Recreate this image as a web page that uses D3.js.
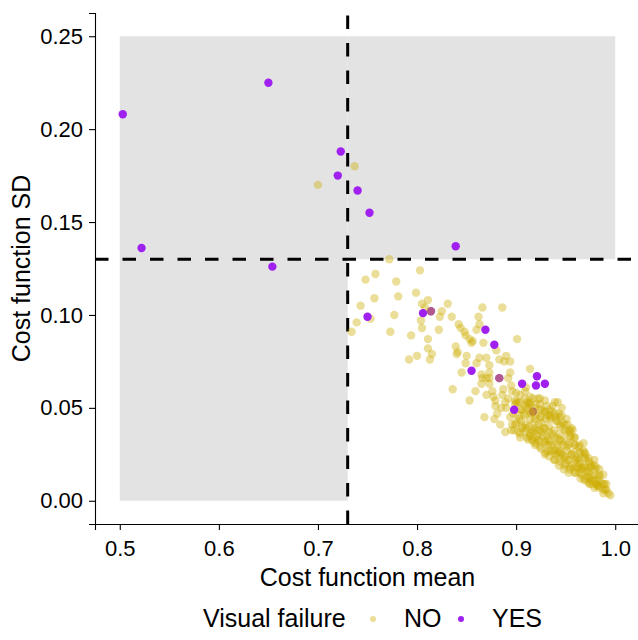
<!DOCTYPE html>
<html>
<head>
<meta charset="utf-8">
<script src="https://cdn.jsdelivr.net/npm/d3@7"></script>
<style>
  body { margin: 0; background: #fff; }
  svg { display: block; }
</style>
</head>
<body>
<div id="chart"></div>
<script>
const width = 638;
const height = 640;
const fontFamily = "Liberation Sans, Arial, sans-serif";

// Axis ticks
const xTicks = [0.5, 0.6, 0.7, 0.8, 0.9, 1.0];
const yTicks = [0, 0.05, 0.10, 0.15, 0.20, 0.25];

// Thresholds (dashed lines) and shaded area
const meanCut = 0.73;
const sdCut = 0.13;
const shadeMean = [0.5, 1.0];
const shadeSD = [0, 0.25];

const legendLabels = ["NO", "YES"];

// Visual failure = NO  [mean, sd]
const noPoints = [
  [0.700,0.170],[0.737,0.180],
  [0.772,0.130],[0.803,0.124],[0.748,0.119],[0.758,0.122],[0.779,0.118],[0.799,0.112],[0.781,0.110],[0.757,0.109],
  [0.743,0.105],[0.805,0.106],[0.811,0.108],[0.808,0.104],[0.753,0.098],[0.777,0.100],[0.739,0.096],[0.734,0.091],
  [0.804,0.097],[0.805,0.093],[0.773,0.091],[0.794,0.089],[0.811,0.087],[0.822,0.092],[0.811,0.082],[0.815,0.079],
  [0.800,0.078],[0.792,0.076],[0.813,0.076],[0.831,0.106],[0.825,0.102],[0.823,0.099],[0.835,0.099],[0.842,0.095],
  [0.844,0.093],[0.848,0.091],[0.849,0.089],[0.853,0.087],[0.856,0.086],[0.855,0.085],[0.839,0.083],[0.841,0.080],
  [0.840,0.079],[0.850,0.078],[0.860,0.092],[0.862,0.099],[0.866,0.104],[0.886,0.104],[0.863,0.095],[0.867,0.085],
  [0.880,0.081],[0.863,0.077],[0.870,0.077],[0.883,0.076],[0.890,0.078],[0.894,0.075],[0.888,0.075],[0.901,0.087],
  [0.873,0.073],[0.849,0.074],[0.914,0.071],[0.845,0.069],[0.873,0.069],[0.894,0.069],
  [0.836,0.060],[0.853,0.054],[0.859,0.059],[0.865,0.063],[0.866,0.066],[0.870,0.057],[0.876,0.059],[0.877,0.056],
  [0.879,0.051],[0.873,0.066],[0.887,0.060],[0.892,0.066],[0.895,0.062],[0.900,0.058],[0.904,0.057],[0.889,0.053],
  [0.890,0.050],[0.868,0.045],[0.878,0.044],[0.881,0.047],[0.894,0.045],[0.895,0.038],[0.899,0.041],[0.905,0.043],
  [0.909,0.046],[0.912,0.050],[0.910,0.039],[0.914,0.035],[0.917,0.032],[0.914,0.053],[0.884,0.041],[0.889,0.037],
  [0.902,0.037],[0.906,0.049],[0.919,0.044],[0.922,0.055],[0.926,0.049],
  [0.931,0.051],[0.932,0.046],[0.937,0.051],[0.939,0.053],[0.942,0.053],[0.946,0.050],[0.943,0.047],[0.941,0.043],
  [0.947,0.042],[0.952,0.041],[0.951,0.044],[0.956,0.039],[0.955,0.035],[0.959,0.034],[0.963,0.029],[0.968,0.027],
  [0.973,0.023],[0.976,0.019],[0.981,0.018],[0.984,0.014],[0.988,0.009],[0.991,0.006],[0.993,0.004],[0.988,0.004],
  [0.979,0.007],[0.973,0.010],[0.966,0.014],[0.963,0.018],[0.956,0.019],[0.949,0.023],[0.944,0.026],[0.939,0.027],
  [0.936,0.030],[0.932,0.033],[0.927,0.035],[0.924,0.029],[0.922,0.035],[0.919,0.039],[0.926,0.042],
  [0.914,0.044],[0.929,0.039],[0.934,0.037],[0.939,0.034],[0.944,0.033],[0.947,0.030],[0.951,0.027],[0.956,0.025],
  [0.960,0.022],[0.964,0.020],[0.969,0.018],[0.973,0.016],[0.977,0.013],[0.982,0.011],[0.984,0.007],[0.949,0.038],
  [0.954,0.031],[0.964,0.026],[0.969,0.023],[0.974,0.020],[0.942,0.030],[0.932,0.027],[0.944,0.021],[0.954,0.017],
  [0.929,0.025],[0.939,0.022],[0.949,0.019],[0.959,0.015],[0.969,0.011],[0.976,0.009],[0.919,0.030],[0.912,0.033],
  [0.904,0.034],[0.896,0.041],[0.924,0.045],[0.934,0.044],[0.944,0.041],[0.954,0.037],[0.959,0.030],[0.970,0.025],
  [0.979,0.019],[0.914,0.048],[0.902,0.053],[0.909,0.055],[0.929,0.054],[0.936,0.048],[0.924,0.038],[0.916,0.038],
  [0.929,0.032],[0.937,0.026],[0.946,0.025],[0.962,0.023],[0.966,0.017],[0.974,0.012],[0.981,0.009],[0.988,0.006],
  [0.873,0.063],[0.910,0.061],[0.900,0.053],[0.917,0.055],[0.924,0.052],[0.957,0.038],[0.968,0.031],[0.979,0.022],
  [0.984,0.017],[0.988,0.014],[0.991,0.009],[0.911,0.053],[0.860,0.074],[0.865,0.068],[0.870,0.066],[0.879,0.054],
  [0.885,0.050],[0.814,0.102],[0.883,0.066],[0.917,0.048],
  // dense core of the cloud
  [0.899,0.052],[0.897,0.047],[0.900,0.042],[0.898,0.038],
  [0.904,0.053],[0.905,0.049],[0.903,0.044],[0.906,0.039],[0.904,0.036],
  [0.909,0.051],[0.908,0.047],[0.910,0.041],[0.909,0.037],[0.911,0.034],
  [0.914,0.052],[0.915,0.047],[0.913,0.040],[0.914,0.036],[0.916,0.033],
  [0.919,0.050],[0.920,0.046],[0.918,0.042],[0.921,0.038],[0.919,0.034],[0.920,0.031],
  [0.924,0.049],[0.925,0.045],[0.923,0.041],[0.926,0.037],[0.924,0.032],[0.925,0.028],
  [0.929,0.048],[0.930,0.044],[0.928,0.039],[0.931,0.035],[0.929,0.031],[0.930,0.026],
  [0.934,0.049],[0.935,0.045],[0.933,0.040],[0.936,0.036],[0.934,0.032],[0.935,0.027],[0.933,0.024],
  [0.939,0.047],[0.940,0.043],[0.938,0.038],[0.941,0.034],[0.939,0.030],[0.940,0.025],[0.938,0.022],
  [0.944,0.045],[0.945,0.040],[0.943,0.036],[0.946,0.032],[0.944,0.027],[0.945,0.023],[0.943,0.019],
  [0.949,0.041],[0.950,0.037],[0.948,0.033],[0.951,0.029],[0.949,0.024],[0.950,0.020],[0.948,0.017],
  [0.954,0.038],[0.955,0.034],[0.953,0.030],[0.956,0.025],[0.954,0.022],[0.955,0.018],[0.953,0.015],
  [0.959,0.034],[0.960,0.030],[0.958,0.026],[0.961,0.022],[0.959,0.018],[0.960,0.015],
  [0.964,0.030],[0.965,0.026],[0.963,0.022],[0.966,0.018],[0.964,0.015],[0.965,0.012],
  [0.969,0.026],[0.970,0.023],[0.968,0.019],[0.971,0.016],[0.969,0.012],
  [0.974,0.021],[0.975,0.018],[0.973,0.015],[0.976,0.011],[0.974,0.009],
  [0.979,0.017],[0.980,0.014],[0.978,0.011],[0.981,0.009],
  [0.984,0.013],[0.985,0.010],[0.983,0.008],
  [0.989,0.009],[0.990,0.006],
  [0.886,0.057],[0.892,0.055],[0.896,0.059],[0.899,0.054],[0.909,0.059],[0.914,0.056],[0.912,0.052],[0.920,0.052],
  [0.924,0.055],[0.929,0.048],[0.934,0.046],[0.940,0.045],[0.946,0.046],[0.902,0.046],[0.906,0.040],[0.917,0.037],
  [0.922,0.033],[0.932,0.030],[0.942,0.026],[0.952,0.022],[0.962,0.018],[0.972,0.013],[0.982,0.008],[0.995,0.003]
];

// Visual failure = YES, a few are drawn underneath the NO points
const yesUnderPoints = [[0.814,0.102],[0.883,0.066],[0.917,0.048]];
const yesPoints = [
  [0.503,0.208],[0.650,0.225],[0.522,0.136],[0.654,0.126],[0.723,0.188],[0.720,0.175],
  [0.740,0.167],[0.752,0.155],[0.839,0.137],[0.750,0.099],[0.806,0.101],[0.869,0.092],
  [0.878,0.084],[0.855,0.070],[0.921,0.067],[0.906,0.063],[0.920,0.062],[0.929,0.063],
  [0.898,0.049]
];

const noColor = "#CDAD00";
const yesColor = "#A020F0";

// Panel
const margin = { left: 95, right: -2, top: 13, bottom: 116 };
const x = d3.scaleLinear().domain([0.475, 1.025]).range([margin.left, width - margin.right]);
const y = d3.scaleLinear().domain([-0.0125, 0.2625]).range([height - margin.bottom, margin.top]);

const svg = d3.select("#chart").append("svg")
  .attr("width", width)
  .attr("height", height)
  .style("font-family", fontFamily);

// Shaded area, with the lower right quadrant left white
const shade = svg.append("g").attr("fill", "#E3E3E3");
shade.append("rect")
  .attr("x", x(shadeMean[0])).attr("y", y(shadeSD[1]))
  .attr("width", x(meanCut) - x(shadeMean[0]))
  .attr("height", y(shadeSD[0]) - y(shadeSD[1]));
shade.append("rect")
  .attr("x", x(meanCut)).attr("y", y(shadeSD[1]))
  .attr("width", x(shadeMean[1]) - x(meanCut))
  .attr("height", y(sdCut) - y(shadeSD[1]));

// Dashed thresholds
svg.append("line")
  .attr("x1", x.range()[0]).attr("x2", x.range()[1])
  .attr("y1", y(sdCut)).attr("y2", y(sdCut))
  .attr("stroke", "#000").attr("stroke-width", 3)
  .attr("stroke-dasharray", "13.5,14");
svg.append("line")
  .attr("x1", x(meanCut)).attr("x2", x(meanCut))
  .attr("y1", y.range()[0]).attr("y2", y.range()[1])
  .attr("stroke", "#000").attr("stroke-width", 3)
  .attr("stroke-dasharray", "13.5,14");

// Points
const r = 4.2;
const noOpacity = 0.4;
svg.append("g").selectAll("circle")
  .data(yesUnderPoints).enter().append("circle")
  .attr("cx", d => x(d[0])).attr("cy", d => y(d[1]))
  .attr("r", r).attr("fill", yesColor);
svg.append("g").selectAll("circle")
  .data(noPoints).enter().append("circle")
  .attr("cx", d => x(d[0])).attr("cy", d => y(d[1]))
  .attr("r", r).attr("fill", noColor).attr("fill-opacity", noOpacity);
svg.append("g").selectAll("circle")
  .data(yesPoints).enter().append("circle")
  .attr("cx", d => x(d[0])).attr("cy", d => y(d[1]))
  .attr("r", r).attr("fill", yesColor);

// Axes
const xAxis = svg.append("g")
  .attr("transform", `translate(0,${y.range()[0]})`)
  .call(d3.axisBottom(x).tickValues(xTicks).tickFormat(d3.format(".1f")).tickSize(6).tickPadding(10));
const yAxis = svg.append("g")
  .attr("transform", `translate(${x.range()[0]},0)`)
  .call(d3.axisLeft(y).tickValues(yTicks).tickFormat(d3.format(".2f")).tickSize(6).tickPadding(6));

[xAxis, yAxis].forEach(g => {
  g.select(".domain").attr("stroke", "#000").attr("stroke-width", 1.1);
  g.selectAll(".tick line").attr("stroke", "#000").attr("stroke-width", 1.1);
  g.selectAll(".tick text")
    .attr("fill", "#000")
    .attr("font-size", "22px")
    .attr("font-family", fontFamily);
});

// Axis titles
svg.append("text")
  .attr("x", (x.range()[0] + x.range()[1]) / 2)
  .attr("y", 586)
  .attr("text-anchor", "middle")
  .attr("font-size", "25px")
  .attr("fill", "#000")
  .text("Cost function mean");

svg.append("text")
  .attr("transform", `translate(30,${(y.range()[0] + y.range()[1]) / 2}) rotate(-90)`)
  .attr("text-anchor", "middle")
  .attr("font-size", "25px")
  .attr("fill", "#000")
  .text("Cost function SD");

// Legend
const legend = svg.append("g");
legend.append("text")
  .attr("x", 203).attr("y", 627)
  .attr("font-size", "25px").attr("fill", "#000")
  .text("Visual failure");

const legendX = [373, 461];
const legendColors = [noColor, yesColor];
const legendOpacity = [noOpacity, 1];
legendLabels.forEach((lab, i) => {
  legend.append("circle")
    .attr("cx", legendX[i]).attr("cy", 619)
    .attr("r", 3)
    .attr("fill", legendColors[i])
    .attr("fill-opacity", legendOpacity[i]);
  legend.append("text")
    .attr("x", legendX[i] + 31).attr("y", 627)
    .attr("font-size", "25px").attr("fill", "#000")
    .text(lab);
});
</script>
</body>
</html>
